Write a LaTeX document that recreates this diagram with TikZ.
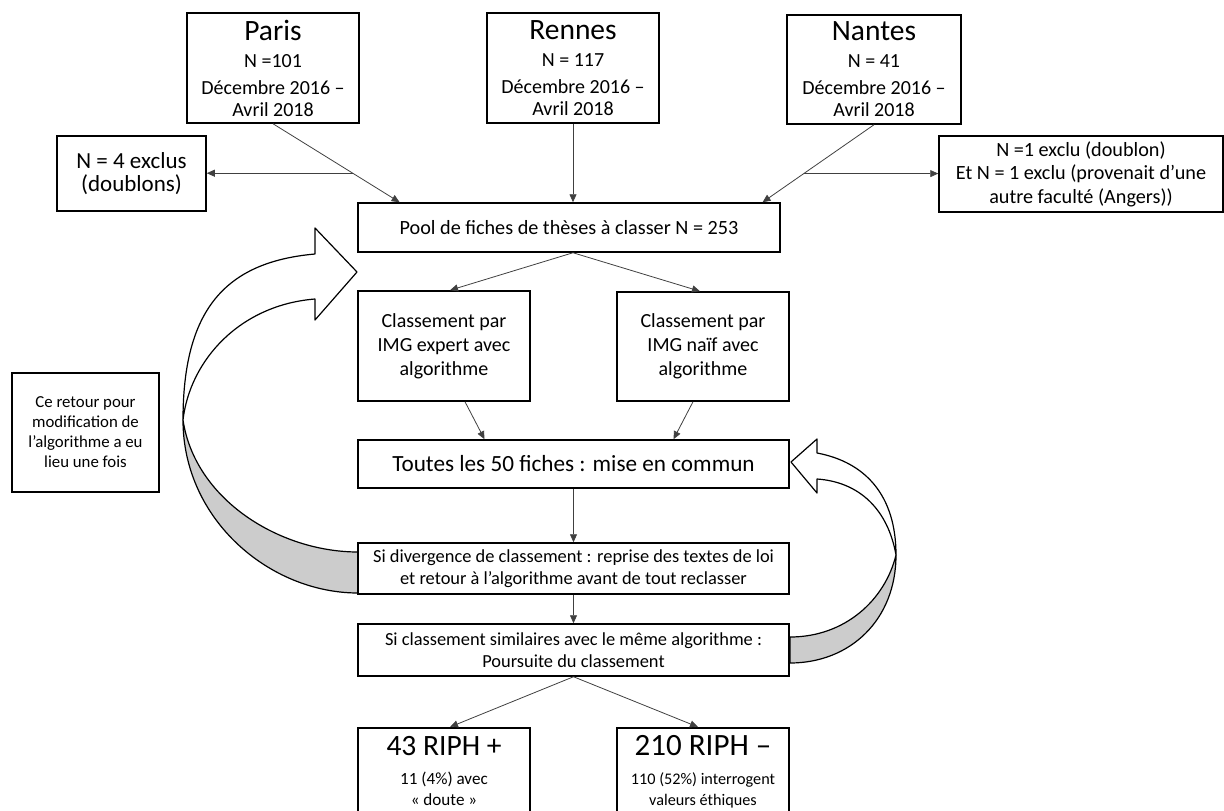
\documentclass[tikz,border=0pt]{standalone}
\usepackage{fontspec}
\setmainfont{Carlito}
\usetikzlibrary{arrows.meta, positioning, calc}

\tikzset{
  boite/.style={draw, line width=1.5pt, align=center, inner sep=2pt},
  fleche/.style={-{Triangle[length=8pt, width=7pt]}, line width=0.8pt, draw=black!75},
  retour/.style={line width=1.2pt, line join=round}
}

\begin{document}
\begin{tikzpicture}[x=1pt, y=-1pt]
    \useasboundingbox (0,0) rectangle (1224,811);

    % fleches courbes (retour algorithme)
    \filldraw[retour, fill=gray!40] (183,420) .. controls (183,520) and (270,593) .. (358,593) -- (358,552) .. controls (280,552) and (195,500) .. (183,420) -- cycle;
    \filldraw[retour, fill=white] (183,420) .. controls (183,310) and (225,262) .. (315,254) -- (315,228) -- (357,272) -- (315,320) -- (315,299) .. controls (240,305) and (190,360) .. (183,420) -- cycle;
    \filldraw[retour, fill=gray!40] (896,555) .. controls (896,620) and (850,663) .. (790,663) -- (790,637) .. controls (845,637) and (885,600) .. (896,555) -- cycle;
    \filldraw[retour, fill=white] (896,555) .. controls (896,495) and (865,462) .. (817,453) -- (817,439) -- (791,462) -- (817,493) -- (817,479) .. controls (860,482) and (888,510) .. (896,555) -- cycle;

    % villes
    \node[boite, minimum width=172pt, minimum height=110pt, font=\fontsize{20}{22}\selectfont] (paris) at (273,68) {{\fontsize{29.5}{30}\selectfont Paris}\\[5pt]N =101\\[5pt]Décembre 2016 –\\Avril 2018};
    \node[boite, minimum width=172pt, minimum height=110pt, font=\fontsize{20}{22}\selectfont] (rennes) at (573,68) {{\fontsize{29.5}{30}\selectfont Rennes}\\[5pt]N = 117\\[5pt]Décembre 2016 –\\Avril 2018};
    \node[boite, minimum width=174pt, minimum height=109pt, font=\fontsize{20}{22}\selectfont] (nantes) at (874,69.5) {{\fontsize{29.5}{30}\selectfont Nantes}\\[5pt]N = 41\\[5pt]Décembre 2016 –\\Avril 2018};

    % exclus
    \node[boite, minimum width=149pt, minimum height=75pt, font=\fontsize{23}{23}\selectfont] (exclG) at (131.5,173.5) {N = 4 exclus\\(doublons)};
    \node[boite, minimum width=284pt, minimum height=76pt, font=\fontsize{20.2}{23.5}\selectfont] (exclD) at (1081,174) {N =1 exclu (doublon)\\Et N = 1 exclu (provenait d’une\\autre faculté (Angers))};

    % etapes
    \node[boite, minimum width=422pt, minimum height=49pt, font=\fontsize{20.2}{24}\selectfont] (pool) at (569,227.5) {Pool de fiches de thèses à classer N = 253};
    \node[boite, minimum width=172pt, minimum height=110pt, font=\fontsize{20}{24}\selectfont] (expert) at (444,346) {Classement par\\IMG expert avec\\algorithme};
    \node[boite, minimum width=172pt, minimum height=109pt, font=\fontsize{20}{24}\selectfont] (naif) at (703,346.5) {Classement par\\IMG naïf avec\\algorithme};
    \node[boite, minimum width=431pt, minimum height=48pt, font=\fontsize{23.2}{27}\selectfont] (toutes) at (573.5,464) {Toutes les 50 fiches : mise en commun};
    \node[boite, minimum width=431pt, minimum height=51pt, font=\fontsize{18.4}{22.5}\selectfont] (diverg) at (573.5,568.5) {Si divergence de classement : reprise des textes de loi\\et retour à l’algorithme avant de tout reclasser};
    \node[boite, minimum width=431pt, minimum height=52pt, font=\fontsize{18.4}{21.5}\selectfont] (simil) at (573.5,650) {Si classement similaires avec le même algorithme :\\Poursuite du classement};
    \node[boite, minimum width=147pt, minimum height=119pt, font=\fontsize{16.8}{20}\selectfont] (note) at (85.5,432.5) {Ce retour pour\\modification de\\l’algorithme a eu\\lieu une fois};

    % resultats
    \node[boite, anchor=north, minimum width=172pt, minimum height=87pt, font=\fontsize{17.1}{21}\selectfont] (riphP) at (444,727) {{\fontsize{29.5}{32}\selectfont 43 RIPH +}\\[8pt]11 (4\%) avec\\« doute »};
    \node[boite, anchor=north, minimum width=172pt, minimum height=87pt, font=\fontsize{16.2}{21}\selectfont] (riphM) at (703,727) {{\fontsize{31}{32}\selectfont 210 RIPH –}\\[8pt]110 (52\%) interrogent\\valeurs éthiques};

    % connecteurs
    \coordinate (poolG) at ($(pool.north west)!0.1!(pool.north east)$);
    \coordinate (poolD) at ($(pool.north west)!0.957!(pool.north east)$);
    \coordinate (brG) at ($(paris.south)!0.63!(poolG)$);
    \coordinate (brD) at ($(nantes.south)!0.63!(poolD)$);
    \draw[fleche] (paris.south) -- (poolG);
    \draw[fleche] (brG) -- (exclG.east |- brG);
    \draw[fleche] (rennes.south) -- (rennes.south |- pool.north);
    \draw[fleche] (nantes.south) -- (poolD);
    \draw[fleche] (brD) -- (exclD.west |- brD);
    \draw[fleche] ([xshift=4pt]pool.south) -- ([xshift=6pt]expert.north);
    \draw[fleche] ([xshift=4pt]pool.south) -- ([xshift=-3pt]naif.north);
    \draw[fleche] ([xshift=21pt]expert.south) -- ([xshift=-89pt]toutes.north);
    \draw[fleche] ([xshift=-10pt]naif.south) -- ([xshift=100pt]toutes.north);
    \draw[fleche] (toutes.south) -- (diverg.north);
    \draw[fleche] (diverg.south) -- (simil.north);
    \draw[fleche] (simil.south) -- ([xshift=6pt]riphP.north);
    \draw[fleche] (simil.south) -- ([xshift=-5pt]riphM.north);
\end{tikzpicture}
\end{document}
